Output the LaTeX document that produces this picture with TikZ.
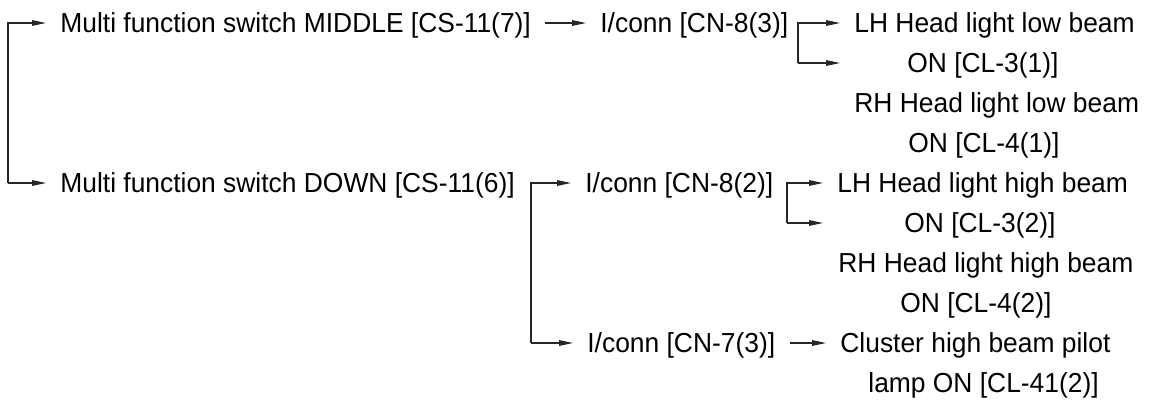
\documentclass[tikz,border=0pt]{standalone}
\usepackage{fontspec}
\setmainfont{Liberation Sans}[FakeStretch=0.96]
\usetikzlibrary{arrows.meta}
\begin{document}
\begin{tikzpicture}[x=0.5pt,y=-0.5pt,
  lbl/.style={anchor=west,inner xsep=7pt,inner ysep=0pt,text height=9.8pt,text depth=0pt,
    font=\fontsize{13.75}{15}\selectfont},
  arr/.style={-{Triangle[length=7pt,width=2.8pt]},line width=0.55pt,draw=black!85}]
\useasboundingbox (0,0) rectangle (1153,402);
% nodes (x = text left - 14)
\node[lbl] (m1) at (46,23) {Multi function switch MIDDLE [CS-11(7)]};
\node[lbl] (c1) at (586,23) {I/conn [CN-8(3)]};
\node[lbl] (l1) at (840,23) {LH Head light low beam};
\node[lbl] (l2) at (893,63) {ON [CL-3(1)]};
\node[lbl] (l3) at (840,103) {RH Head light low beam};
\node[lbl] (l4) at (894,143) {ON [CL-4(1)]};
\node[lbl] (m2) at (46,183) {Multi function switch DOWN [CS-11(6)]};
\node[lbl] (c2) at (571,183) {I/conn [CN-8(2)]};
\node[lbl] (h1) at (823,183) {LH Head light high beam};
\node[lbl] (h2) at (890,223) {ON [CL-3(2)]};
\node[lbl] (h3) at (824,263) {RH Head light high beam};
\node[lbl] (h4) at (886,303) {ON [CL-4(2)]};
\node[lbl] (c3) at (573,343) {I/conn [CN-7(3)]};
\node[lbl] (p1) at (826,343) {Cluster high beam pilot};
\node[lbl] (p2) at (854,383) {lamp ON [CL-41(2)]};
% bracket corners
\coordinate (k0) at (8,183);
\coordinate (k1) at (798,63);
\coordinate (k2) at (531,343);
\coordinate (k3) at (787,223);
% connectors
\draw[arr] (k0) |- (m1.west);
\draw[arr] (k0) -- (m2.west);
\draw[arr] (m1.east) -- (c1.west);
\draw[arr] (k1) |- (l1.west);
\draw[arr] (k1) -- (l1.west |- k1);
\draw[arr] (k2) |- (c2.west);
\draw[arr] (k2) -- (c3.west);
\draw[arr] (k3) |- (h1.west);
\draw[arr] (k3) -- (h1.west |- k3);
\draw[arr] (c3.east) -- (p1.west);
\end{tikzpicture}
\end{document}
